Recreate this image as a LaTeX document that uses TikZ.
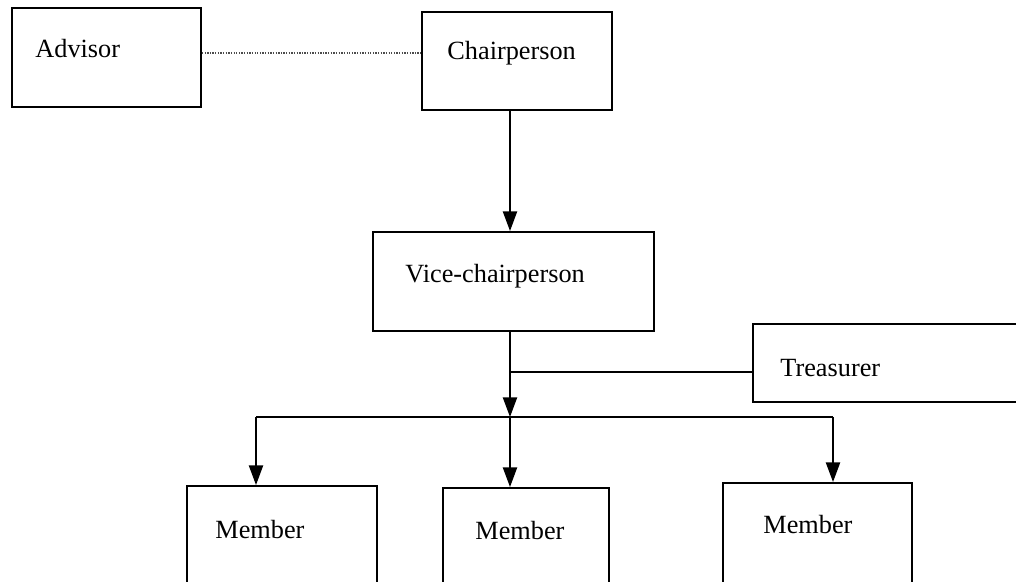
\documentclass[tikz,border=0pt]{standalone}
\usepackage{fontspec}
\setmainfont{Liberation Serif}
\usepackage{xcolor}
\usepackage{tikz}
\usetikzlibrary{positioning,arrows.meta}

% one pixel of the chart
\newcommand{\pxunit}{0.4567pt}

\begin{document}
\begin{tikzpicture}[x=\pxunit, y=-\pxunit,
    orgbox/.style 2 args={draw, line width=0.9pt, inner sep=0pt,
        minimum width=#1*\pxunit, minimum height=#2*\pxunit},
    boxtext/.style={anchor=base west, inner sep=0pt, font=\fontsize{12}{14}\selectfont},
    link/.style={line width=0.75pt},
    down/.style={line width=0.75pt, -{Triangle[width=6.5pt,length=9pt]}}]
\useasboundingbox (0,0) rectangle (1016,582);

\node[orgbox={189}{99}] (advisor) at (106.5,57.5) {};
\node[orgbox={190}{98}] (chair) at (517,61) {};
\node[orgbox={281}{99}] (vice) at (513.5,281.5) {};
\node[orgbox={280}{78}] (treasurer) at (893,363) {};
\node[orgbox={190}{114}] (member_1) at (282,543) {};
\node[orgbox={166}{112}] (member_2) at (526,544) {};
\node[orgbox={189}{117}] (member_3) at (817.5,541.5) {};

\node[boxtext] (advisor_text) at (35,58) {Advisor};
\node[boxtext] (chair_text) at (447,60) {Chairperson};
\node[boxtext] (vice_text) at (405,283) {Vice-chairperson};
\node[boxtext] (treasurer_text) at (780,377) {Treasurer};
\node[boxtext] (member_1_text) at (215,539) {Member};
\node[boxtext] (member_2_text) at (475,540) {Member};
\node[boxtext] (member_3_text) at (763,534) {Member};

\coordinate (spine) at (510,0);
\coordinate (bus_left) at (256,417);
\coordinate (bus_right) at (833,417);
\coordinate (bus_mid) at (510,417);

\draw[line width=0.5pt, dash pattern=on 0.6pt off 0.6pt, black!70] (advisor.east |- 0,53) -- (chair.west |- 0,53);
\draw[down] (chair.south -| spine) -- (vice.north -| spine);
\draw[down] (vice.south -| spine) -- (bus_mid);
\draw[link] (treasurer.west |- 0,372) -- (spine |- 0,372);
\draw[link] (bus_left) -- (bus_right);
\draw[down] (bus_left) -- (member_1.north -| bus_left);
\draw[down] (bus_mid) -- (member_2.north -| bus_mid);
\draw[down] (bus_right) -- (member_3.north -| bus_right);

\end{tikzpicture}
\end{document}
